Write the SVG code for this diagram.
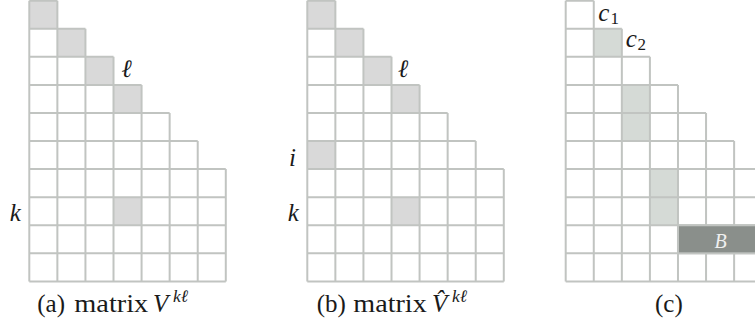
<svg xmlns="http://www.w3.org/2000/svg" width="755" height="329" viewBox="0 0 755 329">
<rect width="755" height="329" fill="#fff"/>
<defs>
<path id="tri" fill="none" stroke="#c1c4c1" stroke-width="2" d="M0 0.7H28.07M0 28.77H56.14M0 56.84H84.21M0 84.91H112.28M0 112.98H140.35M0 141.05H168.42M0 169.12H196.49M0 197.19H196.49M0 225.26H196.49M0 253.33H196.49M0 281.4H196.49M0 0.7V281.4M28.07 0.7V281.4M56.14 28.77V281.4M84.21 56.84V281.4M112.28 84.91V281.4M140.35 112.98V281.4M168.42 141.05V281.4M196.49 169.12V281.4"/>
<rect id="cell" width="28.07" height="28.07"/>
</defs>
<g id="panel-a" transform="translate(29.3,0)" fill="#d9d9d9">
<use href="#cell" x="0" y="0.7"/>
<use href="#cell" x="28.07" y="28.77"/>
<use href="#cell" x="56.14" y="56.84"/>
<use href="#cell" x="84.21" y="84.91"/>
<use href="#cell" x="84.21" y="197.19"/>
<use href="#tri"/>
</g>
<g id="panel-b" transform="translate(307.3,0)" fill="#d9d9d9">
<use href="#cell" x="0" y="0.7"/>
<use href="#cell" x="28.07" y="28.77"/>
<use href="#cell" x="56.14" y="56.84"/>
<use href="#cell" x="84.21" y="84.91"/>
<use href="#cell" x="0" y="141.05"/>
<use href="#cell" x="84.21" y="197.19"/>
<use href="#tri"/>
</g>
<g id="panel-c" transform="translate(565.7,0)" fill="#d5dad6">
<use href="#cell" x="28.07" y="28.77"/>
<rect x="56.14" y="84.91" width="28.07" height="56.14"/>
<rect x="84.21" y="169.12" width="28.07" height="56.14"/>
<use href="#tri"/>
<rect id="block-B" x="112.28" y="225.26" width="84.21" height="28.07" fill="#8a8f8b" stroke="#c1c4c1" stroke-width="2"/>
</g>
<g id="labels" fill="#1a1a1a">
<text font-family="Liberation Serif" font-style="italic" font-size="25" x="126.5" y="76.5" text-anchor="middle">ℓ</text>
<text font-family="Liberation Serif" font-style="italic" font-size="25" x="15.4" y="221" text-anchor="middle">k</text>
<text font-family="Liberation Serif" font-style="italic" font-size="25" x="403" y="76.5" text-anchor="middle">ℓ</text>
<text font-family="Liberation Serif" font-style="italic" font-size="25" x="292.5" y="166" text-anchor="middle">i</text>
<text font-family="Liberation Serif" font-style="italic" font-size="25" x="293.3" y="221" text-anchor="middle">k</text>
<text font-family="Liberation Serif" font-style="italic" font-size="25" x="598.3" y="20.5">c</text>
<text font-family="Liberation Serif" font-size="17" x="610.5" y="23.5">1</text>
<text font-family="Liberation Serif" font-style="italic" font-size="25" x="625.7" y="46.5">c</text>
<text font-family="Liberation Serif" font-size="17" x="637.5" y="50">2</text>
<text font-family="Liberation Serif" font-style="italic" font-size="20" fill="#f0f0f0" x="720.5" y="247.5" text-anchor="middle">B</text>
</g>
<g id="captions" fill="#1a1a1a">
<text font-family="Liberation Serif" font-size="25" x="37.3" y="311.7">(a)</text>
<text font-family="Liberation Serif" font-size="25" x="74.3" y="311.7" textLength="74" lengthAdjust="spacingAndGlyphs">matrix</text>
<text font-family="Liberation Serif" font-style="italic" font-size="25" x="153" y="311.7">V</text>
<text font-family="Liberation Serif" font-style="italic" font-size="17.5" x="173" y="302">kℓ</text>
<text font-family="Liberation Serif" font-size="25" x="316.7" y="311.7">(b)</text>
<text font-family="Liberation Serif" font-size="25" x="353.3" y="311.7" textLength="73.4" lengthAdjust="spacingAndGlyphs">matrix</text>
<text font-family="Liberation Serif" font-style="italic" font-size="25" x="432" y="311.7">V̂</text>
<text font-family="Liberation Serif" font-style="italic" font-size="17.5" x="452" y="302">kℓ</text>
<text font-family="Liberation Serif" font-size="25" x="655" y="311.7">(c)</text>
</g>
</svg>
